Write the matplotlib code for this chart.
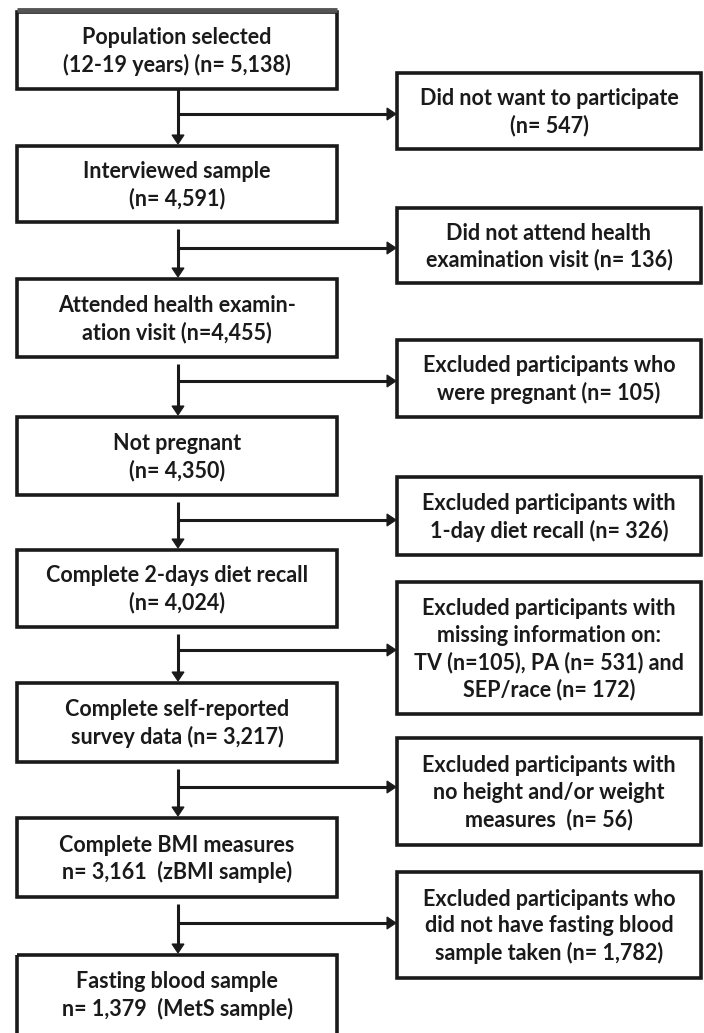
import matplotlib
matplotlib.use("Agg")
import matplotlib.pyplot as plt
from matplotlib.patches import Rectangle, Polygon

# ---- data: box texts ----
main_steps = [
    ["Population selected", "(12-19 years) (n= 5,138)"],
    ["Interviewed sample", "(n= 4,591)"],
    ["Attended health examin-", "ation visit (n=4,455)"],
    ["Not pregnant", "(n= 4,350)"],
    ["Complete 2-days diet recall", "(n= 4,024)"],
    ["Complete self-reported", "survey data (n= 3,217)"],
    ["Complete BMI measures", "n= 3,161  (zBMI sample)"],
    ["Fasting blood sample", "n= 1,379  (MetS sample)"],
]
exclusions = [
    ["Did not want to participate", "(n= 547)"],
    ["Did not attend health", "examination visit (n= 136)"],
    ["Excluded participants who", "were pregnant (n= 105)"],
    ["Excluded participants with", "1-day diet recall (n= 326)"],
    ["Excluded participants with", "missing information on:",
     "TV (n=105), PA (n= 531) and", "SEP/race (n= 172)"],
    ["Excluded participants with", "no height and/or weight",
     "measures  (n= 56)"],
    ["Excluded participants who", "did not have fasting blood",
     "sample taken (n= 1,782)"],
]

# ---- layout (pixels) ----
W, H = 704, 1033
left_x = (17, 337)
left_y = [(12, 89), (146, 222), (279, 357), (417, 495), (550, 627),
          (683, 762), (818, 897), (955, 1045)]
right_x = (397, 701)
right_y = [(73, 149), (208, 283), (340, 417), (477, 555), (582, 714),
           (738, 845), (872, 978)]
branch_y = [114, 248, 381, 520, 650, 787, 923]
spine_x = 178
line_step = 27
FS = 15.5
LW = 2.6
COL = "#1a1a1a"

fig = plt.figure(figsize=(W / 100, H / 100), dpi=100)
ax = fig.add_axes([0, 0, 1, 1])
ax.set_xlim(0, W)
ax.set_ylim(H, 0)
ax.axis("off")

font = dict(family=["Lato", "DejaVu Sans"], fontweight="bold",
            fontsize=FS, color=COL, ha="center", va="center")


def box(x0, x1, y0, y1, lines):
    ax.add_patch(Rectangle((x0, y0), x1 - x0, y1 - y0, fill=False,
                           ec=COL, lw=LW, joinstyle="miter"))
    if y1 <= H:
        cy = (y0 + y1) / 2 + 1
    else:
        cy = y0 + 40
    n = len(lines)
    for i, t in enumerate(lines):
        ax.text((x0 + x1) / 2, cy + (i - (n - 1) / 2) * line_step, t, **font)


def arrowhead(tip_x, tip_y, direction, size=9, half=6):
    if direction == "down":
        pts = [(tip_x, tip_y), (tip_x - half, tip_y - size), (tip_x + half, tip_y - size)]
    else:
        pts = [(tip_x, tip_y), (tip_x - size, tip_y - half), (tip_x - size, tip_y + half)]
    ax.add_patch(Polygon(pts, closed=True, fc=COL, ec=COL, lw=0.8))


for (y0, y1), lines in zip(left_y, main_steps):
    box(left_x[0], left_x[1], y0, y1, lines)
# thicker grey top edge on the first box
ax.plot([left_x[0], left_x[1]], [left_y[0][0] - 2, left_y[0][0] - 2],
        color="#555555", lw=3.5, solid_capstyle="butt")

for (y0, y1), lines in zip(right_y, exclusions):
    box(right_x[0], right_x[1], y0, y1, lines)

for i, by in enumerate(branch_y):
    start = left_y[i][1] + (0 if i == 0 else 7)
    tip = left_y[i + 1][0] - 2
    ax.plot([spine_x, spine_x], [start, tip - 8], color=COL, lw=LW - 0.4,
            solid_capstyle="butt")
    arrowhead(spine_x, tip, "down")
    ax.plot([spine_x, right_x[0] - 8], [by, by], color=COL, lw=LW - 0.4,
            solid_capstyle="butt")
    arrowhead(right_x[0] - 1, by, "right")

fig.savefig("out.png", dpi=100, facecolor="white")
